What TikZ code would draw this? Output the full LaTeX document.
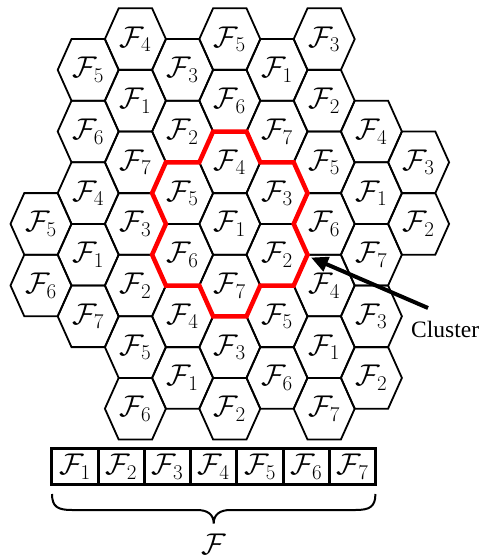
\RequirePackage{fix-cm}
\documentclass[tikz,border=0pt]{standalone}
\usepackage{fontspec}
\newfontfamily\clusterfont{Liberation Serif}
\usetikzlibrary{arrows.meta}
\tikzset{
  hexline/.style={line width=1.8pt, black},
  redline/.style={line width=4.5pt, red},
  lab/.style={font=\fontsize{30}{36}\selectfont, inner sep=0pt},
  fbox/.style={draw, line width=3pt, minimum width=46.3pt, minimum height=36pt, inner sep=0pt, font=\fontsize{30}{36}\selectfont},
}
\begin{document}
\begin{tikzpicture}[x=1pt, y=-1pt]
\useasboundingbox (0,0) rectangle (481,559);
\foreach \i/\k/\n in {0/6/5, 0/8/6,
  1/1/5, 1/3/6, 1/5/4, 1/7/1, 1/9/7,
  2/0/4, 2/2/1, 2/4/7, 2/6/3, 2/8/2, 2/10/5, 2/12/6,
  3/1/3, 3/3/2, 3/5/5, 3/7/6, 3/9/4, 3/11/1,
  4/0/5, 4/2/6, 4/4/4, 4/6/1, 4/8/7, 4/10/3, 4/12/2,
  5/1/1, 5/3/7, 5/5/3, 5/7/2, 5/9/5, 5/11/6,
  6/0/3, 6/2/2, 6/4/5, 6/6/6, 6/8/4, 6/10/1, 6/12/7,
  7/3/4, 7/5/1, 7/7/7, 7/9/3, 7/11/2,
  8/4/3, 8/6/2} {
  \pgfmathsetmacro\cx{41+47.2*\i}
  \pgfmathsetmacro\cy{39.1+30.8*\k}
  \draw[hexline] (\cx-30.5,\cy) -- (\cx-16.7,\cy-30.8) -- (\cx+16.7,\cy-30.8) -- (\cx+30.5,\cy) -- (\cx+16.7,\cy+30.8) -- (\cx-16.7,\cy+30.8) -- cycle;
  \node[lab] (h\i-\k) at (\cx,\cy) {$\mathcal{F}_{\n}$};
}
% cluster outline
\draw[redline] (213.1,131.5) -- (246.5,131.5) -- (260.3,162.3) -- (293.7,162.3) -- (307.5,193.1) -- (293.7,223.9) -- (307.5,254.7) -- (293.7,285.5) -- (260.3,285.5) -- (246.5,316.3) -- (213.1,316.3) -- (199.3,285.5) -- (165.9,285.5) -- (152.1,254.7) -- (165.9,223.9) -- (152.1,193.1) -- (165.9,162.3) -- (199.3,162.3) -- cycle;
% cluster label and arrow
\node[font=\clusterfont\fontsize{23.5}{28}\selectfont, inner sep=0pt, anchor=west] (cluster) at (411,329) {Cluster};
\coordinate (astart) at (428,308);
\coordinate (atip) at (311,257.5);
\draw[line width=4pt, -{Triangle[length=17pt,width=15pt]}] (astart) -- (atip);
% frequency boxes
\foreach \i in {1,...,7} {
  \node[fbox] (b\i) at ({51.7+46.3*(\i-0.5)},466.5) {$\mathcal{F}_{\i}$};
}
% brace
\draw[line width=2pt] (52,494) .. controls (52,507) and (58,510) .. (72,510) -- (197,510) .. controls (207,510) and (213.7,514) .. (213.7,523.5) .. controls (213.7,514) and (220.4,510) .. (230.4,510) -- (355.4,510) .. controls (369.4,510) and (375.4,507) .. (375.4,494);
\node[lab] (ftotal) at (213.7,544) {$\mathcal{F}$};
\end{tikzpicture}
\end{document}
